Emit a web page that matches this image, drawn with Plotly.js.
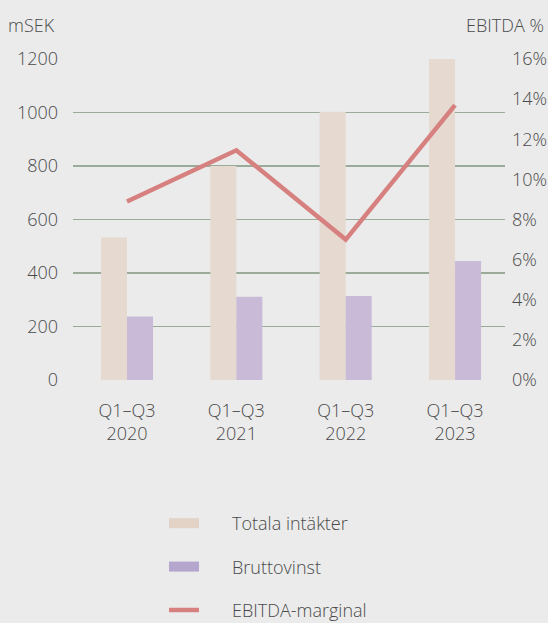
<!DOCTYPE html>
<html>
<head>
<meta charset="utf-8">
<script src="https://cdn.plot.ly/plotly-3.0.1.min.js"></script>
<style>
html,body{margin:0;padding:0;background:#ebebeb;}
#chart{width:548px;height:623px;}
</style>
</head>
<body>
<div id="chart"></div>
<script>
var categories = ["Q1–Q3<br>2020", "Q1–Q3<br>2021", "Q1–Q3<br>2022", "Q1–Q3<br>2023"];
var totalaIntakter = [533, 800, 1003, 1200];
var bruttovinst = [237, 311, 314, 445];
var ebitdaMarginal = [8.9, 11.45, 7.0, 13.7];
var leftTicks = [0, 200, 400, 600, 800, 1000, 1200];
var rightTicks = [0, 2, 4, 6, 8, 10, 12, 14, 16];
var rightTickText = rightTicks.map(function(v){return v + "%";});
var seriesNames = ["Totala intäkter", "Bruttovinst", "EBITDA-marginal"];

var cTot = "#e6d9cf", cBrut = "#c9bbd7", cLine = "#d6807f";
var fontFam = "'Open Sans', sans-serif";
var txt = "#4a4a4a";
var FS = 18;
var pad = "\u00a0\u00a0\u00a0\u00a0\u00a0\u00a0";

var traces = [
  {type:"bar", name:seriesNames[0], x:categories, y:totalaIntakter, marker:{color:cTot}, showlegend:false},
  {type:"bar", name:seriesNames[1], x:categories, y:bruttovinst, marker:{color:cBrut}, showlegend:false},
  {type:"scatter", mode:"lines", name:seriesNames[2], x:categories, y:ebitdaMarginal, yaxis:"y2", line:{color:cLine, width:4.5}, showlegend:false},
  // legend entries
  {type:"scatter", mode:"lines", name:pad + seriesNames[0], x:[null], y:[null], line:{color:"#e2d3c6", width:11}, legendgroup:"a", showlegend:true},
  {type:"scatter", mode:"lines", name:pad + seriesNames[1], x:[null], y:[null], line:{color:"#b4a6cc", width:11}, legendgroup:"b", showlegend:true},
  {type:"scatter", mode:"lines", name:pad + seriesNames[2], x:[null], y:[null], line:{color:"#d6807f", width:4.5}, legendgroup:"c", showlegend:true}
];

var layout = {
  width:548, height:623,
  paper_bgcolor:"#ebebeb", plot_bgcolor:"#ebebeb",
  margin:{l:73, r:43, t:59, b:243, autoexpand:false},
  font:{family:fontFam, size:FS, color:txt, weight:300},
  barmode:"group", bargap:0.524, bargroupgap:0,
  xaxis:{type:"category", range:[-0.494, 3.457], showgrid:false, zeroline:false, showline:false, ticks:"", ticklabelstandoff:18, tickfont:{size:FS, color:txt, weight:300}, fixedrange:true},
  yaxis:{range:[0,1200], tickvals:leftTicks, showgrid:true, gridcolor:"#9aab9a", gridwidth:1.6, zeroline:false, showline:false, ticks:"", ticklabelstandoff:14, tickfont:{size:FS, color:txt, weight:300}},
  yaxis2:{overlaying:"y", side:"right", range:[0,16], tickvals:rightTicks, ticktext:rightTickText, showgrid:false, zeroline:false, showline:false, ticks:"", ticklabelstandoff:6, tickfont:{size:FS, color:txt, weight:300}},
  showlegend:true,
  legend:{xref:"container", yref:"container", x:164/548, xanchor:"left", y:1-505/623, yanchor:"top", orientation:"v", traceorder:"grouped", tracegroupgap:17, font:{size:FS, color:txt, weight:300}, bgcolor:"rgba(0,0,0,0)"},
  annotations:[
    {text:"mSEK", xref:"paper", yref:"paper", x:-0.155, xanchor:"left", y:1.0, yanchor:"bottom", yshift:20, showarrow:false, font:{size:FS, color:txt, weight:300}},
    {text:"EBITDA %", xref:"paper", yref:"paper", x:1.095, xanchor:"right", y:1.0, yanchor:"bottom", yshift:20, showarrow:false, font:{size:FS, color:txt, weight:300}}
  ]
};

Plotly.newPlot("chart", traces, layout, {displayModeBar:false, staticPlot:true});
</script>
</body>
</html>
